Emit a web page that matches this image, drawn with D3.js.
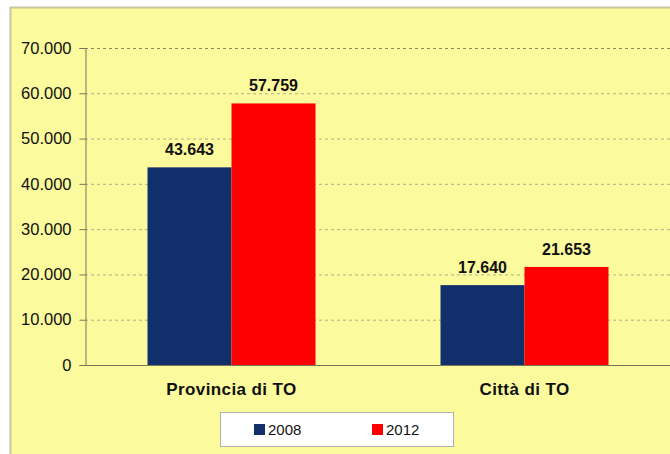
<!DOCTYPE html>
<html>
<head>
<meta charset="utf-8">
<script src="https://cdn.jsdelivr.net/npm/d3@7"></script>
<style>
  body { margin: 0; background: #fff; }
  svg { display: block; font-family: "Liberation Sans", Arial, sans-serif; }
</style>
</head>
<body>
<svg></svg>
<script>
// data
let categories = ['Provincia di TO', 'Città di TO']
let years = ['2008', '2012']
let values2008 = [43643, 17640]
let values2012 = [57759, 21653]
let yTicks = [0, 10000, 20000, 30000, 40000, 50000, 60000, 70000]

let colors = { '2008': '#11306b', '2012': '#ff0000' }

let width = 670
let height = 454
let svg = d3.select('svg').attr('width', width).attr('height', height)

// panel
svg.append('rect')
    .attr('x', 10.5).attr('y', 7.5)
    .attr('width', 700).attr('height', 500)
    .attr('fill', '#fbfa9c')
    .attr('stroke', '#c8c6a0')
    .attr('stroke-width', 2)

let plotLeft = 85, plotRight = 671, plotTop = 48, plotBottom = 365

let xScale = d3.scaleBand().domain(categories).range([plotLeft, plotRight])
let xInner = d3.scaleBand().domain(years).range([0, 168])
let yScale = d3.scaleLinear().domain([0, 70000]).range([plotBottom, plotTop])

let fmt = (v) => d3.format(',')(v).replace(/,/g, '.')

// gridlines
svg.append('g')
    .selectAll('line')
    .data(yTicks.filter(d => d > 0))
    .enter()
    .append('line')
    .attr('x1', plotLeft).attr('x2', plotRight)
    .attr('y1', d => yScale(d) + 0.5).attr('y2', d => yScale(d) + 0.5)
    .attr('stroke', d => d === 70000 ? '#8e8c5a' : '#b3b183')
    .attr('stroke-dasharray', '3,3')

// y axis
let yAxis = d3.axisLeft(yScale).tickValues(yTicks).tickFormat(fmt).tickSize(6).tickPadding(8)
let gy = svg.append('g')
    .attr('transform', 'translate(' + (plotLeft + 0.5) + ',0)')
    .call(yAxis)
gy.select('.domain').attr('stroke', '#77765a')
gy.selectAll('.tick line').attr('stroke', '#77765a')
gy.selectAll('.tick text').attr('font-size', 16.5).attr('fill', '#111').attr('font-family', '"Liberation Sans", Arial, sans-serif')

// bars
let rows = []
categories.forEach((c, i) => {
    rows.push({ cat: c, year: '2008', value: values2008[i] })
    rows.push({ cat: c, year: '2012', value: values2012[i] })
})

let barX = (d) => xScale(d.cat) + (xScale.bandwidth() - 168) / 2 + xInner(d.year)

svg.append('g')
    .selectAll('rect')
    .data(rows)
    .enter()
    .append('rect')
    .attr('x', barX)
    .attr('y', d => yScale(d.value))
    .attr('width', xInner.bandwidth())
    .attr('height', d => plotBottom - yScale(d.value))
    .attr('fill', d => colors[d.year])

svg.append('g')
    .selectAll('text')
    .data(rows)
    .enter()
    .append('text')
    .attr('x', d => barX(d) + xInner.bandwidth() / 2)
    .attr('y', d => yScale(d.value) - 12)
    .attr('text-anchor', 'middle')
    .attr('font-size', 16)
    .attr('font-weight', 'bold')
    .attr('fill', '#111')
    .text(d => fmt(d.value))

// x axis line
svg.append('line')
    .attr('x1', plotLeft).attr('x2', plotRight)
    .attr('y1', plotBottom + 0.5).attr('y2', plotBottom + 0.5)
    .attr('stroke', '#77765a')

svg.append('g')
    .selectAll('text')
    .data(categories)
    .enter()
    .append('text')
    .attr('x', d => xScale(d) + xScale.bandwidth() / 2)
    .attr('y', 395)
    .attr('text-anchor', 'middle')
    .attr('font-size', 17)
    .attr('letter-spacing', 0.4)
    .attr('font-weight', 'bold')
    .attr('fill', '#111')
    .text(d => d)

// legend
let legend = svg.append('g')
legend.append('rect')
    .attr('x', 220.5).attr('y', 412.5)
    .attr('width', 233).attr('height', 34)
    .attr('fill', '#fff')
    .attr('stroke', '#b0b0b0')

let legendX = d3.scaleOrdinal().domain(years).range([254, 372])
years.forEach((y) => {
    legend.append('rect')
        .attr('x', legendX(y)).attr('y', 424)
        .attr('width', 11).attr('height', 11)
        .attr('fill', colors[y])
    legend.append('text')
        .attr('x', legendX(y) + 14).attr('y', 435)
        .attr('font-size', 15)
        .attr('fill', '#111')
        .text(y)
})
</script>
</body>
</html>
